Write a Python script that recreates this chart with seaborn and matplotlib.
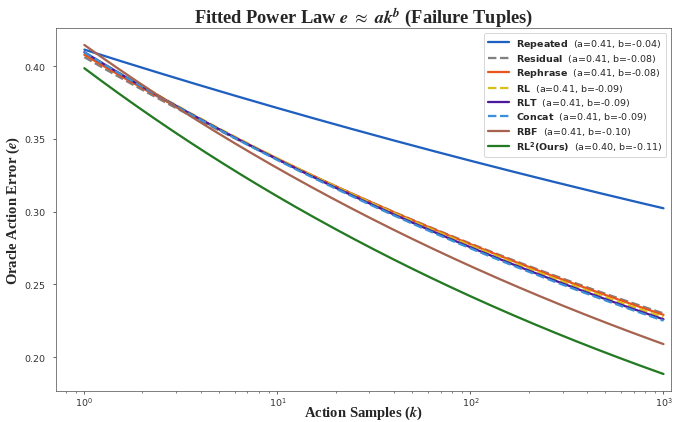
import numpy as np
import pandas as pd
import matplotlib
matplotlib.use('Agg')
import matplotlib.pyplot as plt
import seaborn as sns

# Fitted parameters (e at k=1 and k=1000)
methods = ['Repeated', 'Residual', 'Rephrase', 'RL', 'RLT', 'Concat', 'RBF', 'RL^2(Ours)']
a_fit = [0.4114, 0.4062, 0.4078, 0.4096, 0.4096, 0.4096, 0.4146, 0.3986]
b_fit = [-0.0446, -0.0823, -0.0835, -0.0852, -0.0861, -0.0867, -0.0992, -0.1085]
a_shown = ['0.41', '0.41', '0.41', '0.41', '0.41', '0.41', '0.41', '0.40']
b_shown = ['-0.04', '-0.08', '-0.08', '-0.09', '-0.09', '-0.09', '-0.10', '-0.11']
colors = ['#1f5fbf', '#808080', '#e8561c', '#d9bf1a', '#4b1a9c', '#3b8fd8', '#a66450', '#237a23']
styles = ['-', '--', '-', '--', '-', '--', '-', '-']

k = np.logspace(0, 3, 300)

sns.set_style('ticks')
plt.rcParams['font.family'] = ['DejaVu Sans']
plt.rcParams['axes.edgecolor'] = '0.35'

fig, ax = plt.subplots(figsize=(10, 6.22), dpi=68)
fig.subplots_adjust(left=0.082, right=0.987, top=0.931, bottom=0.074)

for name, a, b, ash, bsh, col, ls in zip(methods, a_fit, b_fit, a_shown, b_shown, colors, styles):
    df = pd.DataFrame({'k': k, 'e': a * k ** b})
    label = r'$\bf{' + name + '}$  (a=' + ash + ', b=' + bsh + ')'
    sns.lineplot(data=df, x='k', y='e', color=col, linestyle=ls, linewidth=2.4,
                 label=label, ax=ax)

ax.set_xscale('log')
ax.set_xlim(0.711, 1096)
ax.set_ylim(0.1769, 0.4261)
ax.set_yticks([0.20, 0.25, 0.30, 0.35, 0.40])
ax.tick_params(labelsize=10, colors='0.2')
ax.tick_params(axis='y', pad=7)
ax.tick_params(axis='x', pad=1)

serif = dict(family='Liberation Serif', weight='bold', math_fontfamily='stix')
ax.set_title(r'Fitted Power Law $\boldsymbol{e}\ \approx\ \boldsymbol{ak}^{\boldsymbol{b}}$ (Failure Tuples)',
             fontsize=19.5, pad=4, **serif)
ax.set_xlabel(r'Action Samples ($\boldsymbol{k}$)', fontsize=15.5, labelpad=-4, **serif)
ax.set_ylabel(r'Oracle Action Error ($\boldsymbol{e}$)', fontsize=15.5, labelpad=3, **serif)

ax.legend(loc='upper right', fontsize=10, handlelength=2.2, labelspacing=0.25, frameon=True)

plt.savefig('out.png', dpi=68)
